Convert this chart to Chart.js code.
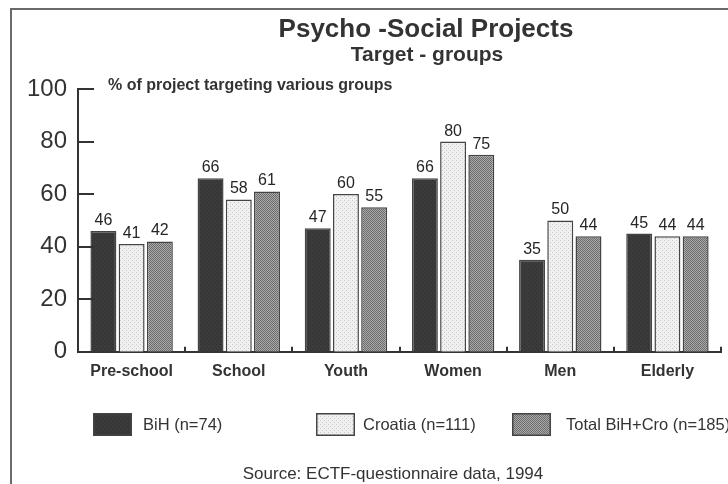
<!DOCTYPE html>
<html>
<head>
<meta charset="utf-8">
<title>Psycho -Social Projects</title>
<script src="https://cdn.jsdelivr.net/npm/chart.js@4"></script>
<style>
  html, body { margin: 0; padding: 0; background: #fff; overflow: hidden; }
  #wrap { position: relative; width: 728px; height: 484px; }
  #frame { position: absolute; left: 10px; top: 8px; width: 740px; height: 500px;
           border-left: 2px solid #6a6a6a; border-top: 2px solid #6a6a6a; }
  canvas { position: absolute; left: 0; top: 0; }
</style>
</head>
<body>
<div id="wrap">
  <div id="frame"></div>
  <canvas id="chart" width="728" height="484"></canvas>
</div>
<script>
const FONT = "'Liberation Sans', Arial, Helvetica, sans-serif";

const categories = ["Pre-school", "School", "Youth", "Women", "Men", "Elderly"];
const bihValues = [46, 66, 47, 66, 35, 45];
const croatiaValues = [41, 58, 60, 80, 50, 44];
const totalValues = [42, 61, 55, 75, 44, 44];
const seriesLabels = ["BiH (n=74)", "Croatia (n=111)", "Total BiH+Cro (n=185)"];
const yTicks = [0, 20, 40, 60, 80, 100];

const titleText = "Psycho -Social Projects";
const subtitleText = "Target - groups";
const axisNote = "% of project targeting various groups";
const sourceText = "Source: ECTF-questionnaire data, 1994";

const canvas = document.getElementById("chart");
const ctx = canvas.getContext("2d");

// little tiles to fake the scanned bar textures
function makePattern(size, base, dot, cells) {
    let c = document.createElement("canvas");
    c.width = size;
    c.height = size;
    let g = c.getContext("2d");
    g.fillStyle = base;
    g.fillRect(0, 0, size, size);
    g.fillStyle = dot;
    cells.forEach(p => g.fillRect(p[0], p[1], 1, 1));
    return ctx.createPattern(c, "repeat");
}

const darkFill = makePattern(4, "#3b3b3b", "#2d2d2d", [[0, 0], [2, 2]]);
const lightFill = makePattern(4, "#f0f0f0", "#c8c8c8", [[0, 0], [2, 2]]);
const midFill = makePattern(2, "#a9a9a9", "#6c6c6c", [[0, 0], [1, 1]]);

const INK = "#333";

const decor = {
    id: "decor",
    afterDraw(chart) {
        let c = chart.ctx;
        let area = chart.chartArea;
        let x = chart.scales.x;
        let y = chart.scales.y;
        c.save();

        // titles
        c.fillStyle = INK;
        c.textAlign = "center";
        c.textBaseline = "alphabetic";
        c.font = "bold 26px " + FONT;
        c.fillText(titleText, 426, 37);
        c.font = "bold 21px " + FONT;
        c.fillText(subtitleText, 427, 61);

        c.textAlign = "left";
        c.font = "bold 16px " + FONT;
        c.fillText(axisNote, 108, 90);

        // y ticks point inward
        c.strokeStyle = INK;
        c.lineWidth = 2;
        yTicks.forEach(v => {
            if (v === 0) return;
            let py = Math.round(y.getPixelForValue(v));
            c.beginPath();
            c.moveTo(area.left, py);
            c.lineTo(area.left + 16, py);
            c.stroke();
        });

        // small marks between categories on the x axis
        for (let i = 0; i < categories.length; i++) {
            let px = Math.round(x.getPixelForValue(i + 0.5));
            c.beginPath();
            c.moveTo(px, area.bottom);
            c.lineTo(px, area.bottom - 5);
            c.stroke();
        }

        // value labels
        c.textAlign = "center";
        c.fillStyle = "#262626";
        c.font = "16px " + FONT;
        chart.data.datasets.forEach((ds, di) => {
            let meta = chart.getDatasetMeta(di);
            meta.data.forEach((bar, i) => {
                c.fillText(String(ds.data[i]), bar.x, bar.y - 6);
            });
        });

        // legend (last label runs off the right edge, like the scan)
        let boxX = [93, 316, 512];
        let textX = [143, 363, 566];
        c.textAlign = "left";
        c.textBaseline = "middle";
        c.font = "16.5px " + FONT;
        chart.data.datasets.forEach((ds, di) => {
            c.fillStyle = ds.backgroundColor;
            c.fillRect(boxX[di], 413, 39, 23);
            c.lineWidth = 1.5;
            c.strokeStyle = "#444";
            c.strokeRect(boxX[di] + 0.75, 413.75, 37.5, 21.5);
            c.fillStyle = INK;
            c.fillText(ds.label, textX[di], 425);
        });

        // source line
        c.textAlign = "center";
        c.textBaseline = "alphabetic";
        c.font = "17px " + FONT;
        c.fillText(sourceText, 393, 479);

        c.restore();
    }
};

new Chart(canvas, {
    type: "bar",
    data: {
        labels: categories,
        datasets: [
            { label: seriesLabels[0], data: bihValues, backgroundColor: darkFill },
            { label: seriesLabels[1], data: croatiaValues, backgroundColor: lightFill },
            { label: seriesLabels[2], data: totalValues, backgroundColor: midFill }
        ]
    },
    options: {
        responsive: false,
        animation: false,
        layout: { padding: { left: 16, right: 7, top: 89, bottom: 93 } },
        datasets: {
            bar: {
                categoryPercentage: 0.79,
                barPercentage: 0.92,
                borderColor: "#444",
                borderWidth: 1.5
            }
        },
        plugins: {
            legend: { display: false },
            title: { display: false },
            tooltip: { enabled: false }
        },
        scales: {
            x: {
                grid: { display: false, drawTicks: false },
                border: { display: true, color: INK, width: 2 },
                ticks: { color: INK, padding: 10, font: { family: FONT, size: 16, weight: "bold" } }
            },
            y: {
                min: 0,
                max: 100,
                afterBuildTicks: scale => {
                    scale.ticks = yTicks.map(v => ({ value: v }));
                },
                grid: { display: false, drawTicks: false },
                border: { display: true, color: INK, width: 2 },
                ticks: { color: INK, padding: 11, font: { family: FONT, size: 24 } }
            }
        }
    },
    plugins: [decor]
});
</script>
</body>
</html>
